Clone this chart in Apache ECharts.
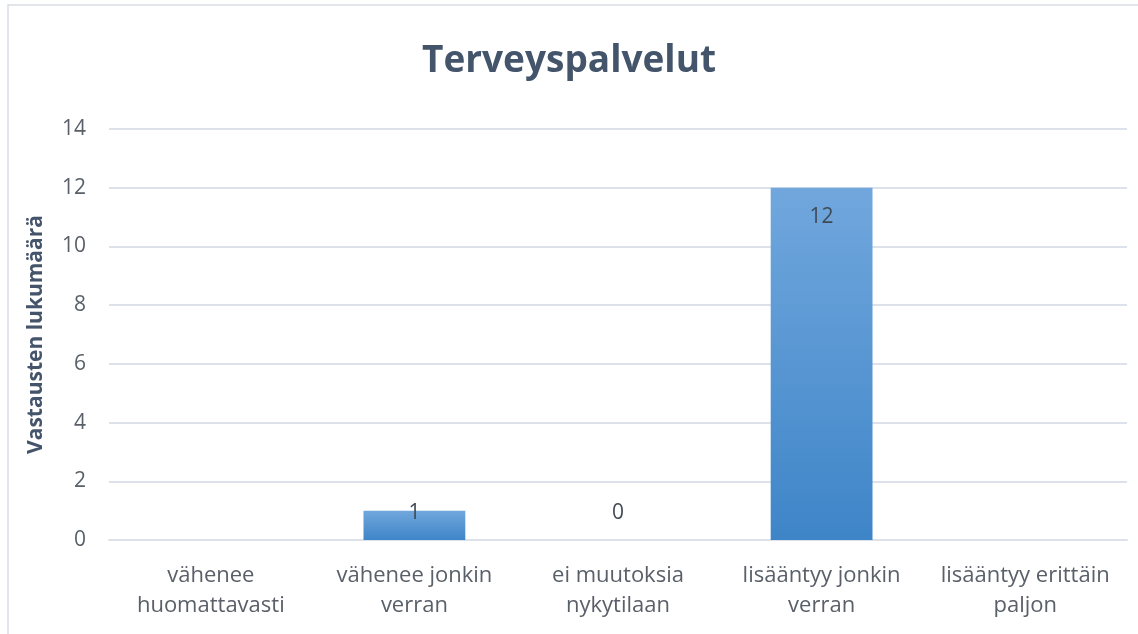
<!DOCTYPE html>
<html>
<head>
<meta charset="utf-8">
<script src="https://cdn.jsdelivr.net/npm/echarts@6/dist/echarts.min.js"></script>
<style>
html, body { margin: 0; padding: 0; background: #fff; }
#main { width: 1138px; height: 634px; }
</style>
</head>
<body>
<div id="main"></div>
<script>
// kategoriat ja vastausten määrät
var categories = [
    'vähenee\nhuomattavasti',
    'vähenee jonkin\nverran',
    'ei muutoksia\nnykytilaan',
    'lisääntyy jonkin\nverran',
    'lisääntyy erittäin\npaljon'
];
var answers = [null, 1, 0, 12, null];
var yTicks = { min: 0, max: 14, interval: 2 };

var myChart = echarts.init(document.getElementById('main'));

var barColor = new echarts.graphic.LinearGradient(0, 0, 0, 1, [
    { offset: 0, color: '#71a7dd' },
    { offset: 1, color: '#3e85c8' }
]);

var seriesData = answers.map(function (v) {
    if (v === null) return null;
    var big = v >= 2;
    return {
        value: v,
        label: big
            ? { position: 'insideTop', distance: 19 }
            : { position: 'insideBottom', distance: 16 }
    };
});

option = {
    backgroundColor: '#fff',
    textStyle: { fontFamily: 'Open Sans' },
    graphic: [{
        type: 'rect',
        shape: { x: 8, y: 5, width: 1140, height: 640 },
        style: { fill: 'none', stroke: '#d9dde3', lineWidth: 1.5 },
        silent: true
    }],
    title: {
        text: 'Terveyspalvelut',
        left: 'center',
        top: 38,
        textStyle: { fontSize: 37, fontWeight: 'bold', color: '#44546a', fontFamily: 'Open Sans' }
    },
    grid: { left: 109, right: 11, top: 129, bottom: 94 },
    xAxis: {
        type: 'category',
        data: categories,
        axisLine: { lineStyle: { color: '#dde2ea', width: 2 } },
        axisTick: { show: false },
        axisLabel: { color: '#5a6069', fontSize: 22, lineHeight: 30, margin: 21, interval: 0 }
    },
    yAxis: {
        type: 'value',
        min: yTicks.min,
        max: yTicks.max,
        interval: yTicks.interval,
        name: 'Vastausten lukumäärä',
        nameLocation: 'middle',
        nameGap: 62,
        nameTextStyle: { fontSize: 21, fontWeight: 'bold', color: '#44546a' },
        axisLine: { show: false },
        axisTick: { show: false },
        axisLabel: { color: '#5a6069', fontSize: 21, margin: 23 },
        splitLine: { lineStyle: { color: '#dde2ea', width: 2 } }
    },
    series: [{
        type: 'bar',
        data: seriesData,
        barWidth: '50%',
        itemStyle: { color: barColor },
        label: { show: true, color: '#404a57', fontSize: 21 }
    }]
};

myChart.setOption(option);
</script>
</body>
</html>
